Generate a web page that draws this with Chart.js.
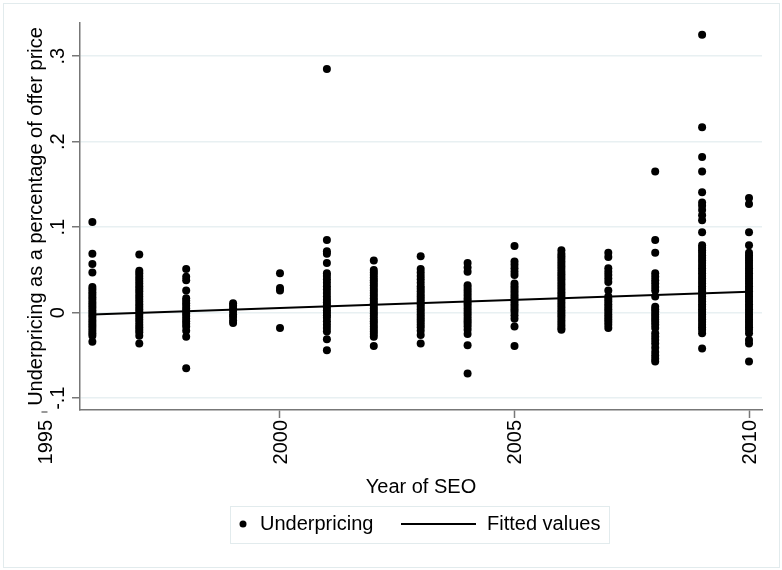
<!DOCTYPE html>
<html>
<head>
<meta charset="utf-8">
<title>Underpricing by year of SEO</title>
<script src="https://cdn.jsdelivr.net/npm/chart.js@4.4.1/dist/chart.umd.min.js"></script>
<style>
  html, body { margin: 0; padding: 0; background: #fff; }
  canvas { display: block; }
</style>
</head>
<body>
<canvas id="chart" width="782" height="570"></canvas>
<script>
// values, one list per year
const years = [1996, 1997, 1998, 1999, 2000, 2001, 2002, 2003, 2004, 2005, 2006, 2007, 2008, 2009, 2010]
const underpricing = [
  [0.106, 0.069, 0.057, 0.047, 0.030, 0.027, 0.024, 0.021, 0.018, 0.015, 0.012, 0.009, 0.006, 0.003, 0.000, -0.003, -0.006, -0.009, -0.012, -0.015, -0.018, -0.021, -0.024, -0.027, -0.034],
  [0.068, 0.049, 0.046, 0.043, 0.040, 0.037, 0.034, 0.031, 0.028, 0.025, 0.022, 0.019, 0.016, 0.013, 0.010, 0.007, 0.004, 0.001, -0.002, -0.005, -0.008, -0.011, -0.014, -0.017, -0.020, -0.023, -0.027, -0.036],
  [0.051, 0.042, 0.038, 0.026, 0.017, 0.014, 0.011, 0.008, 0.005, 0.002, -0.001, -0.004, -0.007, -0.010, -0.013, -0.016, -0.021, -0.028, -0.065],
  [0.011, 0.008, 0.005, 0.002, -0.002, -0.005, -0.009, -0.012],
  [0.046, 0.029, 0.026, -0.018],
  [0.285, 0.085, 0.072, 0.069, 0.058, 0.046, 0.043, 0.039, 0.035, 0.031, 0.027, 0.023, 0.019, 0.015, 0.012, 0.009, 0.006, 0.003, 0.000, -0.003, -0.006, -0.010, -0.014, -0.018, -0.022, -0.031, -0.044],
  [0.061, 0.050, 0.047, 0.044, 0.041, 0.038, 0.035, 0.032, 0.029, 0.026, 0.023, 0.020, 0.017, 0.014, 0.011, 0.008, 0.005, 0.002, -0.001, -0.004, -0.007, -0.010, -0.013, -0.016, -0.019, -0.022, -0.025, -0.028, -0.039],
  [0.066, 0.051, 0.047, 0.043, 0.039, 0.035, 0.031, 0.028, 0.025, 0.022, 0.019, 0.016, 0.013, 0.010, 0.007, 0.004, 0.001, -0.002, -0.005, -0.008, -0.011, -0.014, -0.017, -0.021, -0.026, -0.036],
  [0.058, 0.053, 0.048, 0.032, 0.029, 0.026, 0.023, 0.020, 0.017, 0.014, 0.011, 0.008, 0.005, 0.002, -0.001, -0.004, -0.007, -0.010, -0.013, -0.016, -0.020, -0.025, -0.038, -0.071],
  [0.078, 0.060, 0.056, 0.052, 0.048, 0.044, 0.034, 0.031, 0.028, 0.025, 0.022, 0.019, 0.016, 0.013, 0.010, 0.007, 0.004, 0.001, -0.003, -0.007, -0.016, -0.039],
  [0.073, 0.069, 0.066, 0.063, 0.060, 0.057, 0.054, 0.051, 0.048, 0.045, 0.042, 0.039, 0.036, 0.033, 0.030, 0.027, 0.024, 0.021, 0.018, 0.015, 0.012, 0.009, 0.006, 0.003, 0.000, -0.003, -0.006, -0.009, -0.012, -0.015, -0.018, -0.020],
  [0.070, 0.065, 0.052, 0.048, 0.044, 0.040, 0.036, 0.026, 0.019, 0.016, 0.013, 0.010, 0.007, 0.004, 0.001, -0.002, -0.005, -0.008, -0.011, -0.014, -0.018],
  [0.165, 0.085, 0.070, 0.046, 0.042, 0.038, 0.034, 0.030, 0.026, 0.019, 0.007, 0.004, 0.001, -0.002, -0.005, -0.008, -0.011, -0.014, -0.018, -0.024, -0.028, -0.032, -0.036, -0.041, -0.046, -0.050, -0.054, -0.057],
  [0.325, 0.217, 0.182, 0.165, 0.141, 0.129, 0.125, 0.120, 0.114, 0.108, 0.094, 0.079, 0.076, 0.073, 0.070, 0.067, 0.064, 0.061, 0.058, 0.055, 0.052, 0.049, 0.046, 0.043, 0.040, 0.037, 0.034, 0.031, 0.028, 0.025, 0.022, 0.019, 0.016, 0.013, 0.010, 0.007, 0.004, 0.001, -0.002, -0.005, -0.008, -0.011, -0.014, -0.017, -0.020, -0.024, -0.042],
  [0.134, 0.127, 0.094, 0.079, 0.070, 0.067, 0.064, 0.061, 0.058, 0.055, 0.052, 0.049, 0.046, 0.043, 0.040, 0.037, 0.034, 0.031, 0.028, 0.025, 0.022, 0.019, 0.016, 0.013, 0.010, 0.007, 0.004, 0.001, -0.002, -0.005, -0.008, -0.011, -0.014, -0.017, -0.020, -0.024, -0.032, -0.036, -0.057]
]

// fitted line end points
const fitYears = [1996, 2010]
const fitValues = [-0.002, 0.0245]

const xTicks = [1995, 2000, 2005, 2010]
const yTicks = [-0.1, 0, 0.1, 0.2, 0.3]
const yTickLabels = ['-.1', '0', '.1', '.2', '.3']

const FONT = '20px "Liberation Sans", Arial, sans-serif'
const AXIS = '#777'

const scatterData = years.flatMap((yr, i) => underpricing[i].map(v => ({ x: yr, y: v })))
const fitData = fitYears.map((yr, i) => ({ x: yr, y: fitValues[i] }))

// Stata-like labels, titles, legend and outer frame
const stataFrame = {
  id: 'stataFrame',
  afterDraw(chart) {
    const { ctx, chartArea: a, scales: { x, y } } = chart
    ctx.save()
    ctx.fillStyle = '#000'
    ctx.font = FONT

    // y tick labels (rotated)
    yTicks.forEach((v, i) => {
      ctx.save()
      ctx.translate(a.left - 16, y.getPixelForValue(v))
      ctx.rotate(-Math.PI / 2)
      ctx.textAlign = 'center'
      ctx.textBaseline = 'alphabetic'
      ctx.fillText(yTickLabels[i], 0, 0)
      ctx.restore()
    })

    // x tick labels (rotated), 1995 sits left of the plot area
    xTicks.forEach(v => {
      const px = x.getPixelForValue(v)
      ctx.save()
      ctx.translate(px + 7, a.bottom + 10)
      ctx.rotate(-Math.PI / 2)
      ctx.textAlign = 'right'
      ctx.textBaseline = 'alphabetic'
      ctx.fillText(String(v), 0, 0)
      ctx.restore()
    })
    const p95 = x.getPixelForValue(1995)
    ctx.strokeStyle = AXIS
    ctx.lineWidth = 1.5
    ctx.beginPath()
    ctx.moveTo(p95 - 4, a.bottom + 2)
    ctx.lineTo(p95 + 2, a.bottom + 2)
    ctx.stroke()

    // axis titles
    ctx.save()
    ctx.translate(42, (a.top + a.bottom) / 2)
    ctx.rotate(-Math.PI / 2)
    ctx.textAlign = 'center'
    ctx.textBaseline = 'alphabetic'
    ctx.fillText('Underpricing as a percentage of offer price', 0, 0)
    ctx.restore()

    ctx.textAlign = 'center'
    ctx.textBaseline = 'middle'
    ctx.fillText('Year of SEO', (a.left + a.right) / 2, 487)

    // legend
    ctx.strokeStyle = '#e2ebed'
    ctx.lineWidth = 1
    ctx.strokeRect(230.5, 506.5, 379, 37)
    ctx.beginPath()
    ctx.arc(243, 524, 3.5, 0, Math.PI * 2)
    ctx.fill()
    ctx.textAlign = 'left'
    ctx.fillText(chart.data.datasets[0].label, 260, 524)
    ctx.strokeStyle = '#000'
    ctx.lineWidth = 2
    ctx.beginPath()
    ctx.moveTo(401, 524)
    ctx.lineTo(476, 524)
    ctx.stroke()
    ctx.fillText(chart.data.datasets[1].label, 487, 524)

    // outer frame
    ctx.strokeStyle = '#e2ebed'
    ctx.lineWidth = 1
    ctx.strokeRect(3.5, 3.5, 776, 564)
    ctx.restore()
  }
}

new Chart(document.getElementById('chart'), {
  type: 'scatter',
  data: {
    datasets: [
      {
        label: 'Underpricing',
        data: scatterData,
        pointRadius: 4,
        pointHoverRadius: 4,
        backgroundColor: '#000',
        borderWidth: 0
      },
      {
        label: 'Fitted values',
        data: fitData,
        showLine: true,
        borderColor: '#000',
        borderWidth: 2,
        pointRadius: 0,
        pointHoverRadius: 0
      }
    ]
  },
  options: {
    responsive: false,
    animation: false,
    devicePixelRatio: 1,
    layout: { padding: { left: 80, top: 23, right: 20, bottom: 160 } },
    plugins: { legend: { display: false }, tooltip: { enabled: false } },
    scales: {
      x: {
        type: 'linear',
        min: 1995.736,
        max: 2010.277,
        afterBuildTicks: s => { s.ticks = xTicks.filter(v => v >= s.min && v <= s.max).map(v => ({ value: v })) },
        afterFit: s => { s.height = 0 },
        ticks: { display: false },
        grid: { drawOnChartArea: false, drawTicks: true, tickLength: 8, tickColor: AXIS, tickWidth: 1.5 },
        border: { color: AXIS, width: 1.5 }
      },
      y: {
        type: 'linear',
        min: -0.1138,
        max: 0.3388,
        afterBuildTicks: s => { s.ticks = yTicks.map(v => ({ value: v })) },
        afterFit: s => { s.width = 0 },
        ticks: { display: false },
        grid: { color: '#e8f0f2', lineWidth: 1.5, drawTicks: true, tickLength: 8, tickColor: AXIS, tickWidth: 1.5 },
        border: { color: AXIS, width: 1.5 }
      }
    }
  },
  plugins: [stataFrame]
})
</script>
</body>
</html>
